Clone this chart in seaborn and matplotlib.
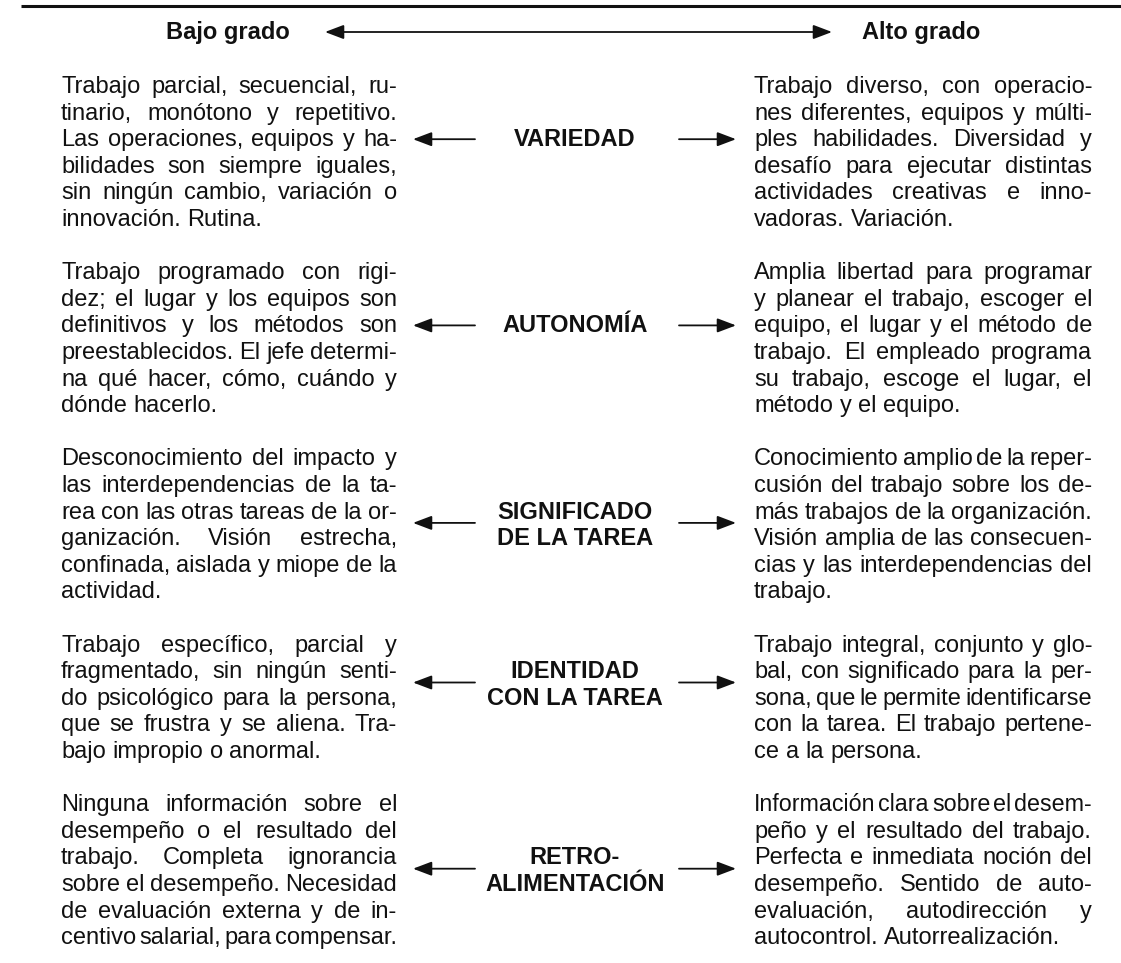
import matplotlib
matplotlib.use("Agg")
import seaborn as sns
import matplotlib.pyplot as plt

sns.set_theme(style="white")
plt.rcParams['font.family'] = ['Liberation Sans', 'DejaVu Sans']

# data: the two ends of the scale and the five dimensions
header_left = "Bajo grado"
header_right = "Alto grado"

labels = [["VARIEDAD"],
          ["AUTONOMÍA"],
          ["SIGNIFICADO", "DE LA TAREA"],
          ["IDENTIDAD", "CON LA TAREA"],
          ["RETRO-", "ALIMENTACIÓN"]]

low_text = [
    ["Trabajo parcial, secuencial, ru-",
     "tinario, monótono y repetitivo.",
     "Las operaciones, equipos y ha-",
     "bilidades son siempre iguales,",
     "sin ningún cambio, variación o",
     "innovación. Rutina."],
    ["Trabajo programado con rigi-",
     "dez; el lugar y los equipos son",
     "definitivos y los métodos son",
     "preestablecidos. El jefe determi-",
     "na qué hacer, cómo, cuándo y",
     "dónde hacerlo."],
    ["Desconocimiento del impacto y",
     "las interdependencias de la ta-",
     "rea con las otras tareas de la or-",
     "ganización. Visión estrecha,",
     "confinada, aislada y miope de la",
     "actividad."],
    ["Trabajo específico, parcial y",
     "fragmentado, sin ningún senti-",
     "do psicológico para la persona,",
     "que se frustra y se aliena. Tra-",
     "bajo impropio o anormal."],
    ["Ninguna información sobre el",
     "desempeño o el resultado del",
     "trabajo. Completa ignorancia",
     "sobre el desempeño. Necesidad",
     "de evaluación externa y de in-",
     "centivo salarial, para compensar."],
]

high_text = [
    ["Trabajo diverso, con operacio-",
     "nes diferentes, equipos y múlti-",
     "ples habilidades. Diversidad y",
     "desafío para ejecutar distintas",
     "actividades creativas e inno-",
     "vadoras. Variación."],
    ["Amplia libertad para programar",
     "y planear el trabajo, escoger el",
     "equipo, el lugar y el método de",
     "trabajo. El empleado programa",
     "su trabajo, escoge el lugar, el",
     "método y el equipo."],
    ["Conocimiento amplio de la reper-",
     "cusión del trabajo sobre los de-",
     "más trabajos de la organización.",
     "Visión amplia de las consecuen-",
     "cias y las interdependencias del",
     "trabajo."],
    ["Trabajo integral, conjunto y glo-",
     "bal, con significado para la per-",
     "sona, que le permite identificarse",
     "con la tarea. El trabajo pertene-",
     "ce a la persona."],
    ["Información clara sobre el desem-",
     "peño y el resultado del trabajo.",
     "Perfecta e inmediata noción del",
     "desempeño. Sentido de auto-",
     "evaluación, autodirección y",
     "autocontrol. Autorrealización."],
]

# first line of each label inside its block
label_row = [2, 2, 2, 1, 2]

W, H = 1121, 963
fig = plt.figure(figsize=(W / 100, H / 100), dpi=100)
ax = fig.add_axes([0, 0, 1, 1])
ax.set_xlim(0, W)
ax.set_ylim(H, 0)
ax.set_axis_off()
sns.despine(ax=ax, left=True, bottom=True)

ink = "#111111"
body_size = 17
bold_size = 17
line_h = 26.6
top_y = 86
base_off = 7
left_x, left_w = 61, 336
right_x, right_w = 754, 338
mid_x = 575

fig.canvas.draw()
renderer = fig.canvas.get_renderer()


def measure(s, size):
    t = ax.text(0, 0, s, fontsize=size)
    w = t.get_window_extent(renderer).width
    t.remove()
    return w


def draw_line(x0, width, y, line, last, size=body_size):
    words = line.split()
    n = len(words) - 1
    ws = [measure(w, size) for w in words]
    sp = measure("a a", size) - measure("aa", size)
    total = sum(ws)
    if n > 0 and total + n * 0.45 * sp > width:
        size = size * width / (total + n * 0.45 * sp)
        ws = [measure(w, size) for w in words]
        sp = measure("a a", size) - measure("aa", size)
        total = sum(ws)
    if n == 0:
        gap = sp
    elif last and total + n * sp <= width:
        gap = sp
    else:
        gap = (width - total) / n
    x = x0
    for w, wd in zip(words, ws):
        ax.text(x, y, w, fontsize=size, color=ink, ha="left", va="baseline")
        x += wd + gap


# top rule and header
ax.hlines(6, 21, W, color=ink, lw=2.2)
hy = 32
ax.text(228, hy + base_off, header_left, fontsize=bold_size, fontweight="bold",
        color=ink, ha="center", va="baseline")
ax.text(921, hy + base_off, header_right, fontsize=bold_size, fontweight="bold",
        color=ink, ha="center", va="baseline")
ax.annotate("", xy=(832, hy), xytext=(325, hy),
            arrowprops=dict(arrowstyle="<|-|>,head_length=0.95,head_width=0.36",
                            color=ink, lw=1.3, shrinkA=0, shrinkB=0))

row = 0
for i in range(len(labels)):
    nlines = max(len(low_text[i]), len(high_text[i]))
    for j, line in enumerate(low_text[i]):
        y = top_y + (row + j) * line_h + base_off
        draw_line(left_x, left_w, y, line, j == len(low_text[i]) - 1)
    for j, line in enumerate(high_text[i]):
        y = top_y + (row + j) * line_h + base_off
        draw_line(right_x, right_w, y, line, j == len(high_text[i]) - 1)

    ys = []
    for k, lab in enumerate(labels[i]):
        yc = top_y + (row + label_row[i] + k) * line_h
        ys.append(yc)
        ax.text(mid_x, yc + base_off, lab, fontsize=bold_size, fontweight="bold",
                color=ink, ha="center", va="baseline")
    ay = sum(ys) / len(ys) - (2 if len(ys) > 1 else 0)
    ax.annotate("", xy=(413, ay), xytext=(475, ay),
                arrowprops=dict(arrowstyle="-|>,head_length=0.95,head_width=0.36",
                                color=ink, lw=1.3, shrinkA=0, shrinkB=0))
    ax.annotate("", xy=(736, ay), xytext=(679, ay),
                arrowprops=dict(arrowstyle="-|>,head_length=0.95,head_width=0.36",
                                color=ink, lw=1.3, shrinkA=0, shrinkB=0))
    row += nlines + 1

fig.savefig("out.png", dpi=100, facecolor="white")
